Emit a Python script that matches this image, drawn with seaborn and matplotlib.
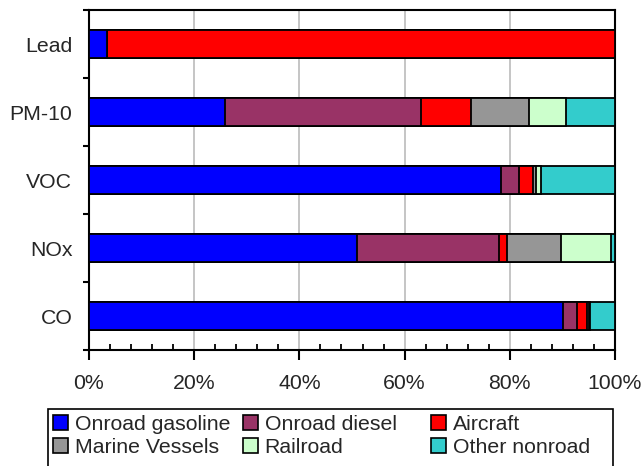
import numpy as np
import pandas as pd
import seaborn as sns
import matplotlib
matplotlib.use('Agg')
import matplotlib.pyplot as plt
from matplotlib.patches import Patch, Rectangle
from matplotlib.ticker import MultipleLocator, FuncFormatter

# pollutants, top to bottom
pollutants = ['Lead', 'PM-10', 'VOC', 'NOx', 'CO']
sources = ['Onroad gasoline', 'Onroad diesel', 'Aircraft',
           'Marine Vessels', 'Railroad', 'Other nonroad']
colors = ['#0000FF', '#993366', '#FF0000', '#969696', '#CCFFCC', '#33CCCC']

# share (%) of each source, same order as pollutants
onroad_gasoline = [3.4, 25.9, 78.3, 50.9, 90.1]
onroad_diesel = [0.0, 37.2, 3.4, 27.0, 2.6]
aircraft = [96.6, 9.5, 2.7, 1.5, 2.0]
marine_vessels = [0.0, 11.0, 0.6, 10.3, 0.3]
railroad = [0.0, 7.0, 0.9, 9.5, 0.2]
other_nonroad = [0.0, 9.4, 14.1, 0.8, 4.8]

shares = pd.DataFrame({
    'Onroad gasoline': onroad_gasoline,
    'Onroad diesel': onroad_diesel,
    'Aircraft': aircraft,
    'Marine Vessels': marine_vessels,
    'Railroad': railroad,
    'Other nonroad': other_nonroad,
}, index=pollutants)
cum = shares.cumsum(axis=1)

sns.set_style('white')
plt.rcParams['font.family'] = ['Liberation Sans', 'DejaVu Sans']
plt.rcParams['font.size'] = 15.3

W, H = 643, 466
fig = plt.figure(figsize=(W/100, H/100), dpi=100)
ax = fig.add_axes([89/W, 1-350/H, 526/W, 340/H])

# stacked bars: draw cumulative totals from the largest down
for src, col in reversed(list(zip(sources, colors))):
    d = pd.DataFrame({'pollutant': pollutants, 'value': cum[src].values})
    sns.barplot(data=d, x='value', y='pollutant', orient='h', color=col,
                width=0.4, edgecolor='black', linewidth=1.3, saturation=1,
                ax=ax, zorder=3)

ax.set_xlim(0, 100)
ax.set_ylim(4.5, -0.5)
ax.set_xlabel('')
ax.set_ylabel('')

ax.xaxis.set_major_locator(MultipleLocator(20))
ax.xaxis.set_minor_locator(MultipleLocator(4))
ax.xaxis.set_major_formatter(FuncFormatter(lambda v, p: '%d%%' % v))
ax.set_yticks(np.arange(-0.5, 5, 1), minor=True)

ax.tick_params(axis='x', which='major', direction='out', length=7, width=1.5,
               color='black', pad=10, labelsize=15.3, bottom=True)
ax.tick_params(axis='x', which='minor', direction='in', length=4, width=1.3,
               color='black', bottom=True)
ax.tick_params(axis='y', which='major', length=0, pad=12, labelsize=15.3)
ax.tick_params(axis='y', which='minor', direction='out', length=4, width=1.5,
               color='black', left=True)

ax.grid(axis='x', which='major', color='#c0c0c0', linewidth=1.3, zorder=0)
ax.set_axisbelow(True)
for s in ax.spines.values():
    s.set_visible(True)
    s.set_color('black')
    s.set_linewidth(1.5)

# legend: three equal-width columns, filled row by row, inside one box
handles = [Patch(facecolor=c, edgecolor='black', linewidth=1.2, label=s)
           for s, c in zip(sources, colors)]
col_x = [53, 243, 431]
for i, x in enumerate(col_x):
    fig.legend(handles=[handles[i], handles[i + 3]], loc='upper left',
               bbox_to_anchor=(x/W, 1-415/H), frameon=False, fontsize=15.3,
               handlelength=0.72, handleheight=0.72, handletextpad=0.3,
               labelspacing=0.2, borderaxespad=0, borderpad=0)
fig.patches.append(Rectangle((48/W, -0.05), (613-48)/W, 1-409/H + 0.05,
                             transform=fig.transFigure, fill=False,
                             edgecolor='black', linewidth=1.2))

fig.savefig('out.png', dpi=100)
